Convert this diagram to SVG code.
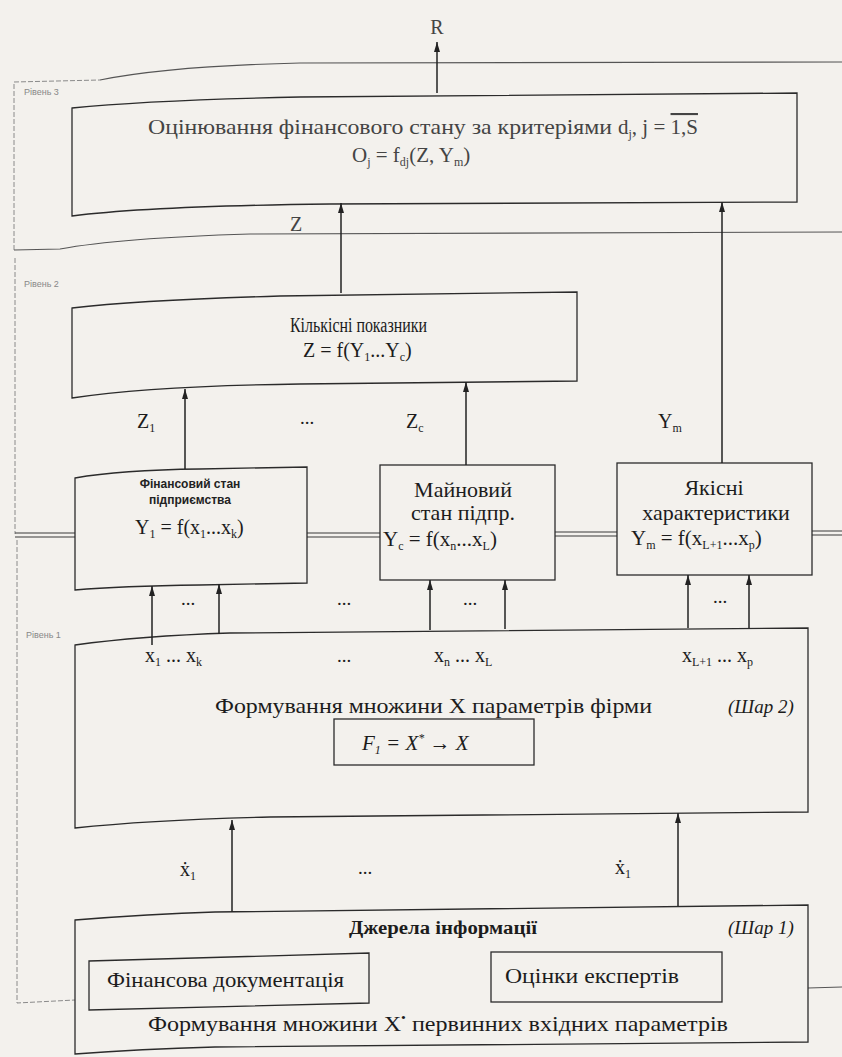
<svg xmlns="http://www.w3.org/2000/svg" width="842" height="1057" viewBox="0 0 842 1057">
<style>
.bg{fill:#f3f1ed}
.box{fill:none;stroke:#2b2b2b;stroke-width:1.3}
.lt{fill:none;stroke:#555;stroke-width:1.1}
.fr{fill:none;stroke:#8a8a8a;stroke-width:1;stroke-dasharray:5 2}
.dbl{fill:none;stroke:#3a3a3a;stroke-width:1.1}
.ar{stroke:#222;stroke-width:1.5;fill:none;marker-end:url(#ah)}
.s{font-family:"Liberation Serif","DejaVu Serif","Times New Roman",serif;fill:#1c1c1c}
.sf{font-family:"Liberation Serif","DejaVu Serif","Times New Roman",serif;fill:#444}
.ss{font-family:"Liberation Sans",Arial,sans-serif;fill:#222;font-weight:bold}
.lv{font-family:"Liberation Sans",Arial,sans-serif;fill:#888;font-size:9px}
.it{font-style:italic}
</style>
<defs>
<marker id="ah" viewBox="0 0 10 6" refX="10" refY="3" markerWidth="10" markerHeight="6" markerUnits="userSpaceOnUse" orient="auto">
<polygon points="0,0 10,3 0,6" fill="#222"/>
</marker>
</defs>
<rect class="bg" x="0" y="0" width="842" height="1057"/>

<g id="level3">
<path class="fr" d="M14,250 L14,82 L100,80"/>
<path class="lt" d="M100,80 Q170,66 300,63 L842,62"/>
<path class="lt" d="M14,250 L60,249 Q120,238 250,234 L842,232"/>
<text class="lv" x="24" y="95">Рівень 3</text>
</g>

<g id="level2">
<path class="fr" d="M15,258 L15,534"/>
<text class="lv" x="24" y="287">Рівень 2</text>
<path class="dbl" d="M15,533 L75,533 M15,537 L75,537 M307,533 L380,533 M307,537 L380,537 M555,532 L617,532 M555,536 L617,536 M812,531 L842,531 M812,535 L842,535"/>
</g>

<g id="level1">
<path class="fr" d="M17,540 L17,1003 L75,1000"/>
<path class="lt" d="M808,988 L842,987"/>
<text class="lv" x="26" y="638">Рівень 1</text>
</g>

<g id="eval">
<path class="box" d="M72,108 Q150,100 300,97 L797,93 L797,202 L330,204 Q150,206 72,216 Z" stroke="#555"/>
<text class="sf" x="148" y="134" font-size="21" textLength="464" lengthAdjust="spacingAndGlyphs">Оцінювання фінансового стану за критеріями</text>
<text class="sf" x="618" y="134" font-size="21">d<tspan font-size="12" dy="4">j</tspan><tspan dy="-4">, j = </tspan><tspan text-decoration="overline">1,S</tspan></text>
<text class="sf" x="352" y="162" font-size="21">O<tspan font-size="12" dy="4">j</tspan><tspan dy="-4"> = f</tspan><tspan font-size="12" dy="4">dj</tspan><tspan dy="-4">(Z, Y</tspan><tspan font-size="12" dy="4">m</tspan><tspan dy="-4">)</tspan></text>
</g>

<g id="quant">
<path class="box" d="M72,308 Q140,300 280,296 L577,292 L577,381 L300,384 Q150,386 72,398 Z"/>
<text class="s" x="290" y="332" font-size="20" textLength="137" lengthAdjust="spacingAndGlyphs">Кількісні показники</text>
<text class="s" x="303" y="357" font-size="20">Z = f(Y<tspan font-size="12" dy="4">1</tspan><tspan dy="-4">...Y</tspan><tspan font-size="12" dy="4">c</tspan><tspan dy="-4">)</tspan></text>
</g>

<g id="fin">
<path class="box" d="M75,478 Q120,470 200,469 L307,467 L307,583 L200,585 Q120,586 75,590 Z"/>
<text class="ss" x="190" y="488" font-size="12" text-anchor="middle">Фінансовий стан</text>
<text class="ss" x="190" y="504" font-size="12" text-anchor="middle">підприємства</text>
<text class="s" x="135" y="534" font-size="20">Y<tspan font-size="12" dy="4">1</tspan><tspan dy="-4"> = f(x</tspan><tspan font-size="12" dy="4">1</tspan><tspan dy="-4">...x</tspan><tspan font-size="12" dy="4">k</tspan><tspan dy="-4">)</tspan></text>
</g>

<g id="mayn">
<rect class="box" x="380" y="465" width="175" height="115"/>
<text class="s" x="463" y="497" font-size="22" text-anchor="middle">Майновий</text>
<text class="s" x="463" y="520" font-size="22" text-anchor="middle">стан підпр.</text>
<text class="s" x="383" y="546" font-size="21">Y<tspan font-size="12" dy="4">c</tspan><tspan dy="-4"> = f(x</tspan><tspan font-size="12" dy="4">n</tspan><tspan dy="-4">...x</tspan><tspan font-size="12" dy="4">L</tspan><tspan dy="-4">)</tspan></text>
</g>

<g id="yak">
<rect class="box" x="617" y="463" width="195" height="112"/>
<text class="s" x="714" y="495" font-size="22" text-anchor="middle">Якісні</text>
<text class="s" x="716" y="520" font-size="22" text-anchor="middle">характеристики</text>
<text class="s" x="631" y="545" font-size="21">Y<tspan font-size="12" dy="4">m</tspan><tspan dy="-4"> = f(x</tspan><tspan font-size="12" dy="4">L+1</tspan><tspan dy="-4">...x</tspan><tspan font-size="12" dy="4">p</tspan><tspan dy="-4">)</tspan></text>
</g>

<g id="shar2">
<path class="box" d="M75,645 Q140,636 230,633 L808,628 L808,812 L270,817 Q150,820 75,828 Z"/>
<text class="s" x="215" y="713" font-size="21" textLength="437" lengthAdjust="spacingAndGlyphs">Формування множини X параметрів фірми</text>
<text class="s it" x="728" y="713" font-size="19">(Шар 2)</text>
<text class="s" x="145" y="662" font-size="20">x<tspan font-size="12" dy="4">1</tspan><tspan dy="-4"> ... x</tspan><tspan font-size="12" dy="4">k</tspan></text>
<text class="s" x="344" y="662" font-size="19" text-anchor="middle">...</text>
<text class="s" x="434" y="662" font-size="20">x<tspan font-size="12" dy="4">n</tspan><tspan dy="-4"> ... x</tspan><tspan font-size="12" dy="4">L</tspan></text>
<text class="s" x="682" y="662" font-size="20">x<tspan font-size="12" dy="4">L+1</tspan><tspan dy="-4"> ... x</tspan><tspan font-size="12" dy="4">p</tspan></text>
</g>

<g id="fbox">
<rect class="box" x="334" y="719" width="200" height="46"/>
<text class="s it" x="362" y="750" font-size="21">F<tspan font-size="12" dy="4">1</tspan><tspan dy="-4"> =  X</tspan><tspan font-size="12" dy="-8">*</tspan><tspan dy="8">  →  X</tspan></text>
</g>

<g id="shar1">
<path class="box" d="M75,920 Q150,914 215,912 L808,905 L808,1042 L215,1047 Q140,1049 75,1054 Z"/>
<text class="s" x="349" y="934" font-size="18" font-weight="bold" textLength="188" lengthAdjust="spacingAndGlyphs">Джерела інформації</text>
<text class="s it" x="728" y="934" font-size="19">(Шар 1)</text>
<text class="s" x="148" y="1031" font-size="21" textLength="580" lengthAdjust="spacingAndGlyphs">Формування множини X<tspan font-size="12" dy="-9">•</tspan><tspan dy="9">  первинних вхідних параметрів</tspan></text>
</g>

<g id="findoc">
<path class="box" d="M89,961 L369,953 L369,1003 L89,1010 Z"/>
<text class="s" x="107" y="987" font-size="21" textLength="237" lengthAdjust="spacingAndGlyphs">Фінансова документація</text>
</g>

<g id="experts">
<rect class="box" x="491" y="952" width="231" height="50"/>
<text class="s" x="505" y="983" font-size="21" textLength="174" lengthAdjust="spacingAndGlyphs">Оцінки експертів</text>
</g>

<g id="connectors">
<line class="ar" x1="437" y1="93" x2="437" y2="42" stroke="#444"/>
<line class="ar" x1="341" y1="293" x2="341" y2="203"/>
<line class="ar" x1="722" y1="463" x2="722" y2="202"/>
<line class="ar" x1="185" y1="469" x2="185" y2="389"/>
<line class="ar" x1="466" y1="465" x2="466" y2="382"/>
<line class="ar" x1="152" y1="645" x2="152" y2="586"/>
<line class="ar" x1="219" y1="634" x2="219" y2="584"/>
<line class="ar" x1="430" y1="630" x2="430" y2="580"/>
<line class="ar" x1="505" y1="629" x2="505" y2="580"/>
<line class="ar" x1="688" y1="628" x2="688" y2="575"/>
<line class="ar" x1="749" y1="628" x2="749" y2="575"/>
<line class="ar" x1="232" y1="912" x2="232" y2="820"/>
<line class="ar" x1="678" y1="906" x2="678" y2="813"/>
</g>

<g id="labels">
<text class="sf" x="437" y="34" font-size="20" text-anchor="middle">R</text>
<text class="sf" x="296" y="231" font-size="20" text-anchor="middle">Z</text>
<text class="s" x="137" y="428" font-size="20">Z<tspan font-size="12" dy="4">1</tspan></text>
<text class="s" x="307" y="424" font-size="19" text-anchor="middle">...</text>
<text class="s" x="406" y="428" font-size="20">Z<tspan font-size="12" dy="4">c</tspan></text>
<text class="s" x="658" y="428" font-size="20">Y<tspan font-size="12" dy="4">m</tspan></text>
<text class="s" x="188" y="605" font-size="19" text-anchor="middle">...</text>
<text class="s" x="344" y="605" font-size="19" text-anchor="middle">...</text>
<text class="s" x="470" y="605" font-size="19" text-anchor="middle">...</text>
<text class="s" x="720" y="603" font-size="19" text-anchor="middle">...</text>
<text class="s" x="180" y="876" font-size="20">ẋ<tspan font-size="12" dy="4">1</tspan></text>
<text class="s" x="365" y="874" font-size="19" text-anchor="middle">...</text>
<text class="s" x="615" y="874" font-size="20">ẋ<tspan font-size="12" dy="4">1</tspan></text>
</g>
</svg>
